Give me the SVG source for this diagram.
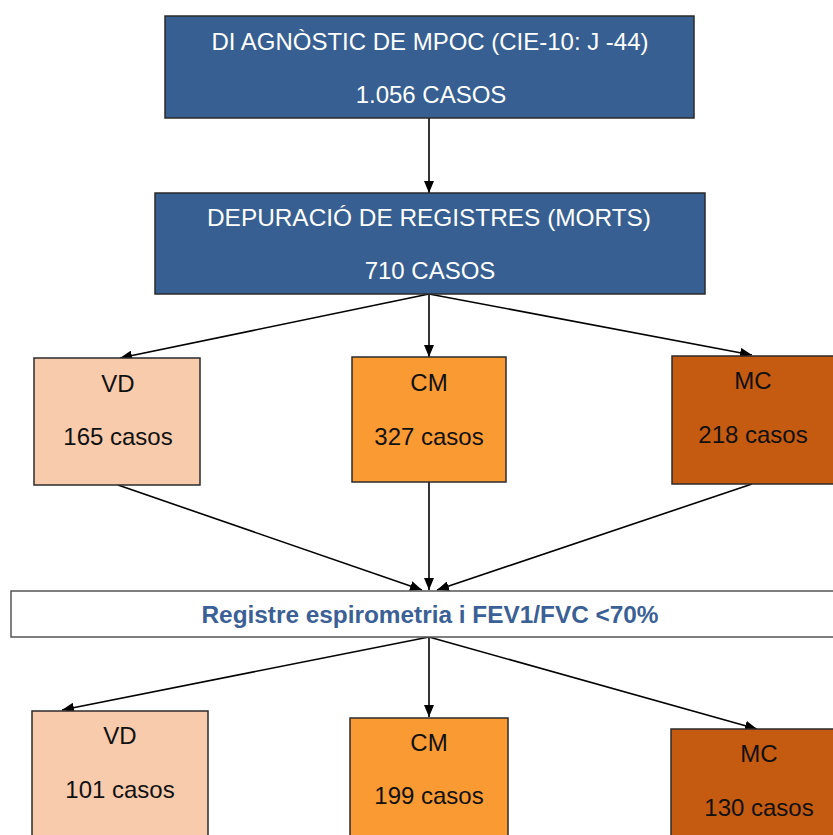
<svg xmlns="http://www.w3.org/2000/svg" width="833" height="835" viewBox="0 0 833 835">
  <style>
    .box { stroke: #2b2b2b; stroke-width: 1.5; }
    .blue { fill: #375F91; }
    .vd { fill: #F8CBAD; }
    .cm { fill: #FA9A33; }
    .mc { fill: #C55A11; }
    .white { fill: #ffffff; stroke: #555555; stroke-width: 1.5; }
    .t { font-family: "Liberation Sans", Arial, sans-serif; font-size: 24px; text-anchor: middle; dominant-baseline: central; }
    .tw { fill: #ffffff; }
    .tb { fill: #111111; }
    .tf { fill: #3A6096; font-weight: bold; font-size: 23px; }
    .edge { stroke: #000000; stroke-width: 1.6; fill: none; marker-end: url(#arrow); }
  </style>
  <defs>
    <marker id="arrow" viewBox="0 0 12 10" refX="12" refY="5" markerWidth="12" markerHeight="10" markerUnits="userSpaceOnUse" orient="auto">
      <path d="M0,0 L12,5 L0,10 Z" fill="#000000"/>
    </marker>
  </defs>

  <rect width="833" height="835" fill="#ffffff"/>

  <g id="connectors">
    <line class="edge" x1="429" y1="118" x2="429" y2="193"/>
    <line class="edge" x1="429" y1="294" x2="120" y2="358"/>
    <line class="edge" x1="429" y1="294" x2="429" y2="357"/>
    <line class="edge" x1="429" y1="294" x2="752" y2="355"/>
    <line class="edge" x1="118" y1="485" x2="422" y2="590"/>
    <line class="edge" x1="429" y1="482" x2="429" y2="590"/>
    <line class="edge" x1="752" y1="484" x2="437" y2="590"/>
    <line class="edge" x1="429" y1="637" x2="62" y2="710"/>
    <line class="edge" x1="429" y1="637" x2="429" y2="717"/>
    <line class="edge" x1="429" y1="637" x2="757" y2="729"/>
  </g>

  <g id="diagnostic">
    <rect class="box blue" x="165" y="16" width="529" height="102"/>
    <text class="t tw" x="430" y="41" textLength="437" lengthAdjust="spacingAndGlyphs">DI AGNÒSTIC DE MPOC (CIE-10: J -44)</text>
    <text class="t tw" x="431" y="94">1.056 CASOS</text>
  </g>

  <g id="depuracio">
    <rect class="box blue" x="155" y="193" width="550" height="101"/>
    <text class="t tw" x="429" y="217" textLength="444" lengthAdjust="spacingAndGlyphs">DEPURACIÓ DE REGISTRES (MORTS)</text>
    <text class="t tw" x="430" y="270">710 CASOS</text>
  </g>

  <g id="vd1">
    <rect class="box vd" x="34" y="358" width="166" height="127"/>
    <text class="t tb" x="118" y="383">VD</text>
    <text class="t tb" x="118" y="436">165 casos</text>
  </g>

  <g id="cm1">
    <rect class="box cm" x="352" y="357" width="154" height="125"/>
    <text class="t tb" x="429" y="382">CM</text>
    <text class="t tb" x="429" y="436">327 casos</text>
  </g>

  <g id="mc1">
    <rect class="box mc" x="672" y="356" width="180" height="128"/>
    <text class="t tb" x="753" y="380">MC</text>
    <text class="t tb" x="753" y="434">218 casos</text>
  </g>

  <g id="espirometria">
    <rect class="white" x="11" y="591" width="840" height="46"/>
    <text class="t tf" x="430" y="615" textLength="457" lengthAdjust="spacingAndGlyphs">Registre espirometria i FEV1/FVC &lt;70%</text>
  </g>

  <g id="vd2">
    <rect class="box vd" x="32" y="711" width="176" height="140"/>
    <text class="t tb" x="120" y="735">VD</text>
    <text class="t tb" x="120" y="789">101 casos</text>
  </g>

  <g id="cm2">
    <rect class="box cm" x="350" y="718" width="158" height="130"/>
    <text class="t tb" x="429" y="742">CM</text>
    <text class="t tb" x="429" y="795">199 casos</text>
  </g>

  <g id="mc2">
    <rect class="box mc" x="671" y="729" width="180" height="120"/>
    <text class="t tb" x="759" y="753">MC</text>
    <text class="t tb" x="759" y="807">130 casos</text>
  </g>
</svg>
